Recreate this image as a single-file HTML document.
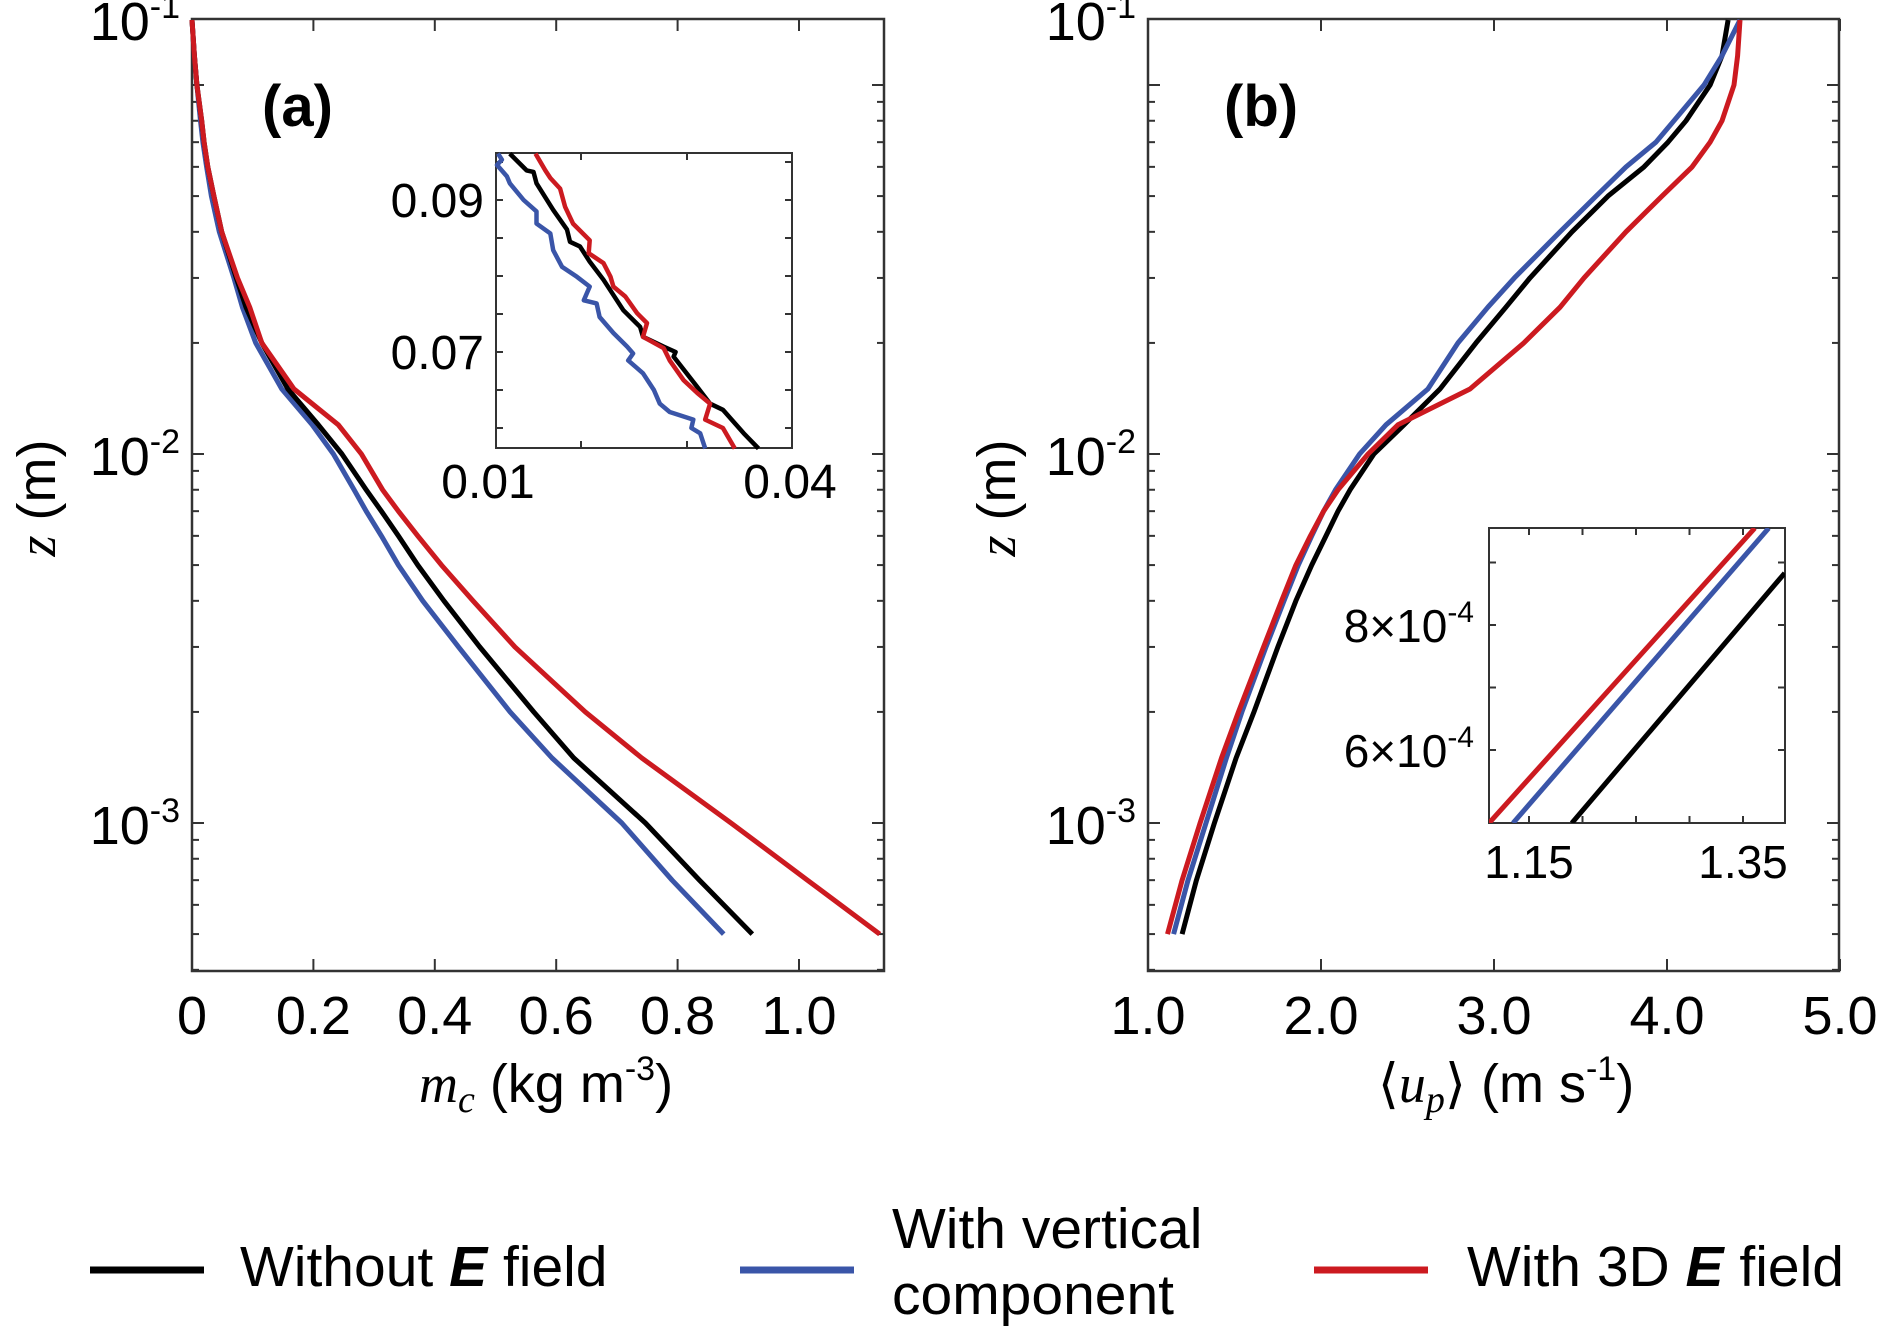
<!DOCTYPE html>
<html><head><meta charset="utf-8">
<style>
html,body{margin:0;padding:0;background:#fff;}
svg{display:block;font-family:"Liberation Sans",Arial,sans-serif;}
</style></head>
<body>
<svg id="fig" width="1881" height="1336" viewBox="0 0 1881 1336" xmlns="http://www.w3.org/2000/svg">
<rect x="0" y="0" width="1881" height="1336" fill="#fff"/>
<g id="root"></g>
<g>
  <line x1="90" y1="1270" x2="204" y2="1270" stroke="#000" stroke-width="7"/>
  <text x="240" y="1286" font-size="57">Without <tspan font-weight="bold" font-style="italic">E</tspan> field</text>
  <line x1="740" y1="1270" x2="854" y2="1270" stroke="#3a55a8" stroke-width="7"/>
  <text x="892" y="1248" font-size="57">With vertical</text>
  <text x="892" y="1314" font-size="57">component</text>
  <line x1="1314" y1="1270" x2="1428" y2="1270" stroke="#cc1a20" stroke-width="7"/>
  <text x="1467" y="1286" font-size="57">With 3D <tspan font-weight="bold" font-style="italic">E</tspan> field</text>
</g>
</svg>
<script>
// ---- data ----
const zLevels = [5e-4,7e-4,1e-3,1.5e-3,2e-3,3e-3,4e-3,5e-3,6e-3,7e-3,8e-3,1e-2,1.2e-2,1.5e-2,2e-2,2.5e-2,3e-2,4e-2,5e-2,6e-2,7e-2,8e-2,0.1,0.12,0.15];
const mcBlack = [0.923,0.836,0.747,0.629,0.563,0.474,0.415,0.372,0.340,0.312,0.287,0.247,0.208,0.158,0.115,0.089,0.073,0.049,0.036,0.026,0.020,0.016,0.008,0.004,0.000];
const mcBlue  = [0.876,0.791,0.708,0.593,0.524,0.439,0.380,0.340,0.312,0.287,0.267,0.233,0.198,0.148,0.105,0.083,0.069,0.045,0.032,0.024,0.018,0.014,0.008,0.004,0.000];
const mcRed   = [1.133,1.014,0.888,0.741,0.648,0.532,0.463,0.411,0.372,0.340,0.314,0.279,0.241,0.168,0.115,0.095,0.075,0.049,0.036,0.026,0.020,0.016,0.008,0.004,0.000];
const upBlack = [1.197,1.280,1.384,1.509,1.613,1.751,1.855,1.946,2.029,2.098,2.168,2.306,2.480,2.688,2.896,3.069,3.208,3.451,3.659,3.867,4.006,4.110,4.249,4.318,4.353];
const upBlue  = [1.148,1.231,1.335,1.453,1.543,1.682,1.786,1.869,1.946,2.015,2.084,2.223,2.376,2.618,2.792,2.965,3.118,3.382,3.590,3.763,3.936,4.040,4.214,4.318,4.422];
const upRed   = [1.113,1.197,1.301,1.425,1.523,1.668,1.772,1.855,1.939,2.015,2.098,2.272,2.445,2.861,3.173,3.382,3.520,3.763,3.971,4.145,4.249,4.318,4.387,4.408,4.422];
// inset (a)
const insABlackX = [0.0114,0.0131,0.0138,0.0141,0.0158,0.0172,0.0175,0.0185,0.0195,0.0209,0.0229,0.0246,0.0249,0.0270,0.0282,0.0280,0.0304,0.0317,0.0330,0.0351,0.0366];
const insABlackZ = [0.0961,0.0939,0.0937,0.0922,0.0887,0.0861,0.0845,0.0839,0.0819,0.0795,0.0755,0.0733,0.0720,0.0707,0.0700,0.0694,0.0654,0.0632,0.0624,0.0593,0.0573];
const insARedX = [0.0140,0.0150,0.0155,0.0165,0.0170,0.0178,0.0195,0.0194,0.0209,0.0216,0.0219,0.0231,0.0243,0.0253,0.0249,0.0270,0.0276,0.0290,0.0304,0.0317,0.0312,0.0330,0.0342];
const insARedZ = [0.0961,0.0939,0.0929,0.0915,0.0891,0.0869,0.0847,0.0830,0.0817,0.0799,0.0786,0.0773,0.0751,0.0738,0.0720,0.0705,0.0689,0.0663,0.0646,0.0632,0.0611,0.0600,0.0573];
const insABlueX = [0.0102,0.0106,0.0101,0.0111,0.0114,0.0128,0.0141,0.0141,0.0155,0.0158,0.0167,0.0182,0.0195,0.0189,0.0202,0.0205,0.0219,0.0233,0.0239,0.0234,0.0249,0.0260,0.0266,0.0276,0.0300,0.0298,0.0307,0.0312];
const insABlueZ = [0.0961,0.0953,0.0946,0.0931,0.0922,0.0900,0.0885,0.0869,0.0856,0.0834,0.0812,0.0799,0.0786,0.0768,0.0764,0.0746,0.0725,0.0707,0.0698,0.0689,0.0672,0.0650,0.0632,0.0621,0.0611,0.0600,0.0593,0.0573];
// inset (b)
const insBRedX = [1.1126,1.361];
const insBRedZ = [4.83e-4,9.55e-4];
const insBBlueX = [1.135,1.374];
const insBBlueZ = [4.83e-4,9.55e-4];
const insBBlackX = [1.190,1.389];
const insBBlackZ = [4.83e-4,8.83e-4];
// ticks
const mcTicks = [0,0.2,0.4,0.6,0.8,1.0];
const mcTickLabels = ["0","0.2","0.4","0.6","0.8","1.0"];
const upTicks = [1,2,3,4,5];
const upTickLabels = ["1.0","2.0","3.0","4.0","5.0"];

const NS = "http://www.w3.org/2000/svg";
const root = document.getElementById('root');
function el(tag, attrs, parent){const e=document.createElementNS(NS,tag);for(const k in attrs)e.setAttribute(k,attrs[k]);(parent||root).appendChild(e);return e;}

const TOP=19, BOT=971;
function yLog(z){return 454 - 369*(Math.log10(z)+2);}
function xA(v){return 192 + v*607;}
function xB(v){return 1148 + (v-1)*173;}
const BLACK="#000", BLUE="#3a55a8", RED="#cc1a20";

function poly(xs, zs, fx, fy, color, name, sw){
  const pts = xs.map((v,i)=>fx(v).toFixed(1)+","+fy(zs[i]).toFixed(1)).join(" ");
  const p = el('polyline',{points:pts,fill:'none',stroke:color,'stroke-width':sw||5,'stroke-linejoin':'round'});
  
  
  return p;
}

function panel(x0,x1,fx,ticks,labels,id){
  const g = el('g',{});
  
  
  for(let d=-4; d<=-1; d++){
    for(let m=1;m<=9;m++){
      const z=m*Math.pow(10,d); const y=yLog(z);
      if(y<TOP||y>BOT) continue;
      const L = m===1?12:7;
      el('line',{x1:x0,y1:y,x2:x0+L,y2:y,stroke:'#333','stroke-width':2},g);
      el('line',{x1:x1,y1:y,x2:x1-L,y2:y,stroke:'#333','stroke-width':2},g);
    }
  }
  ticks.forEach((t,i)=>{
    const x=fx(t);
    el('line',{x1:x,y1:BOT,x2:x,y2:BOT-12,stroke:'#333','stroke-width':2},g);
    el('line',{x1:x,y1:TOP,x2:x,y2:TOP+12,stroke:'#333','stroke-width':2},g);
    const tx = el('text',{x:x,y:1034,'font-size':54,'text-anchor':'middle'},g);
    tx.textContent=labels[i];
    
    
  });
  [[-1,40],[-2,475],[-3,844]].forEach(([e,y])=>{
    const t=el('text',{x:x0-12,y:y,'font-size':54,'text-anchor':'end'},g);
    
    
    t.innerHTML='10<tspan dy="-22" font-size="34">'+e+'</tspan>';
  });
  el('rect',{x:x0,y:TOP,width:x1-x0,height:BOT-TOP,fill:'none',stroke:'#333','stroke-width':2.5},g);
  return g;
}

panel(192,884,xA,mcTicks,mcTickLabels,'a');
poly(mcBlue,zLevels,xA,yLog,BLUE,'series-a-vertical');
poly(mcBlack,zLevels,xA,yLog,BLACK,'series-a-without');
poly(mcRed,zLevels,xA,yLog,RED,'series-a-3d');
panel(1148,1839,xB,upTicks,upTickLabels,'b');
poly(upBlack,zLevels,xB,yLog,BLACK,'series-b-without');
poly(upBlue,zLevels,xB,yLog,BLUE,'series-b-vertical');
poly(upRed,zLevels,xB,yLog,RED,'series-b-3d');

let t=el('text',{x:262,y:126,'font-size':58,'font-weight':'bold'}); t.textContent='(a)';
 
t=el('text',{x:1224,y:126,'font-size':58,'font-weight':'bold'}); t.textContent='(b)';
 

t=el('text',{x:546,y:1102,'font-size':54,'text-anchor':'middle'});
 
t.innerHTML='<tspan font-family="Liberation Serif" font-style="italic">m<tspan font-size="38" dy="10">c</tspan></tspan><tspan dy="-10"> (kg m</tspan><tspan dy="-22" font-size="34">-3</tspan><tspan dy="22">)</tspan>';
t=el('text',{x:1506,y:1102,'font-size':54,'text-anchor':'middle'});
 
t.innerHTML='⟨<tspan font-family="Liberation Serif" font-style="italic">u<tspan font-size="38" dy="10">p</tspan></tspan><tspan dy="-10">⟩ (m s</tspan><tspan dy="-22" font-size="34">-1</tspan><tspan dy="22">)</tspan>';
[[55,'a'],[1015,'b']].forEach(([x,id])=>{
  const tt=el('text',{x:x,y:498,'font-size':54,'text-anchor':'middle',transform:'rotate(-90 '+x+' 498)'});
   
  tt.innerHTML='<tspan font-family="Liberation Serif" font-style="italic">z</tspan> (m)';
});

// Inset A
const iaX0=496, iaX1=792, iaY0=153, iaY1=448;
function xIA(v){return iaX0 + (v-0.01)/0.03*(iaX1-iaX0);}
function yIA(z){return 200 + (0.09-z)*7600;}
const ia = el('g',{});  
el('rect',{x:iaX0,y:iaY0,width:iaX1-iaX0,height:iaY1-iaY0,fill:'#fff',stroke:'#333','stroke-width':2},ia);
[581,687].forEach(x=>{el('line',{x1:x,y1:iaY1,x2:x,y2:iaY1-7,stroke:'#333','stroke-width':2},ia);el('line',{x1:x,y1:iaY0,x2:x,y2:iaY0+7,stroke:'#333','stroke-width':2},ia);});
[0.095,0.09,0.085,0.08,0.075,0.07,0.065,0.06].forEach(z=>{const y=yIA(z);el('line',{x1:iaX0,y1:y,x2:iaX0+7,y2:y,stroke:'#333','stroke-width':2},ia);el('line',{x1:iaX1,y1:y,x2:iaX1-7,y2:y,stroke:'#333','stroke-width':2},ia);});
[["0.09",0.09],["0.07",0.07]].forEach(([s,z])=>{const tt=el('text',{x:484,y:yIA(z)+17,'font-size':48,'text-anchor':'end'},ia);tt.textContent=s;});
[["0.01",488],["0.04",790]].forEach(([s,x])=>{const tt=el('text',{x:x,y:498,'font-size':48,'text-anchor':'middle'},ia);tt.textContent=s;});
poly(insABlueX,insABlueZ,xIA,yIA,BLUE,'inset-a-vertical',4.5);
poly(insABlackX,insABlackZ,xIA,yIA,BLACK,'inset-a-without',4.5);
poly(insARedX,insARedZ,xIA,yIA,RED,'inset-a-3d',4.5);

// Inset B
const ibX0=1489, ibX1=1785, ibY0=528, ibY1=823;
function xIB(v){return 1529 + (v-1.15)*1070;}
function yIB(z){return 625 + (8e-4-z)*625000;}
const ib = el('g',{});  
el('rect',{x:ibX0,y:ibY0,width:ibX1-ibX0,height:ibY1-ibY0,fill:'#fff',stroke:'#333','stroke-width':2},ib);
[1.15,1.2,1.25,1.3,1.35].forEach(v=>{const x=xIB(v);el('line',{x1:x,y1:ibY1,x2:x,y2:ibY1-7,stroke:'#333','stroke-width':2},ib);el('line',{x1:x,y1:ibY0,x2:x,y2:ibY0+7,stroke:'#333','stroke-width':2},ib);});
[9e-4,8e-4,7e-4,6e-4].forEach(z=>{const y=yIB(z);el('line',{x1:ibX0,y1:y,x2:ibX0+7,y2:y,stroke:'#333','stroke-width':2},ib);el('line',{x1:ibX1,y1:y,x2:ibX1-7,y2:y,stroke:'#333','stroke-width':2},ib);});
[["8",8e-4],["6",6e-4]].forEach(([s,z])=>{const tt=el('text',{x:1474,y:yIB(z)+17,'font-size':46,'text-anchor':'end'},ib);tt.innerHTML=s+'×10<tspan dy="-20" font-size="30">-4</tspan>';});
[["1.15",1.15],["1.35",1.35]].forEach(([s,v])=>{const tt=el('text',{x:xIB(v),y:878,'font-size':46,'text-anchor':'middle'},ib);tt.textContent=s;});
const clip = el('clipPath',{id:'ibclip'}); el('rect',{x:ibX0,y:ibY0,width:ibX1-ibX0,height:ibY1-ibY0},clip);
const ibl = el('g',{'clip-path':'url(#ibclip)'},ib);
 
[[insBRedX,insBRedZ,RED,'inset-b-3d'],[insBBlueX,insBBlueZ,BLUE,'inset-b-vertical'],[insBBlackX,insBBlackZ,BLACK,'inset-b-without']].forEach(([xs,zs,c,n])=>{
  const pts=xs.map((v,i)=>xIB(v).toFixed(1)+","+yIB(zs[i]).toFixed(1)).join(" ");
  const p=el('polyline',{points:pts,fill:'none',stroke:c,'stroke-width':5},ibl);
  
  
});
</script>
</body></html>
